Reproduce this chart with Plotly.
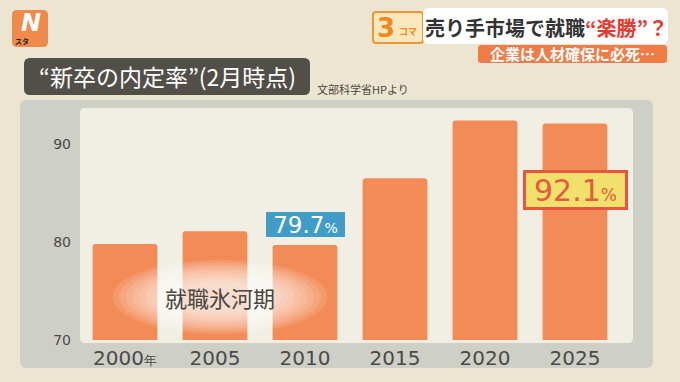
import plotly.graph_objects as go

# ---- data ----
years = ["2000", "2005", "2010", "2015", "2020", "2025"]
rates = [79.8, 81.1, 79.7, 86.5, 92.4, 92.1]
tick_labels = ["2000<span style='font-size:13px'>年</span>", "2005", "2010", "2015", "2020", "2025"]
y_ticks = [70, 80, 90]

W, H = 680, 382
ML, MR, MT, MB = 80, 60, 108, 42
PW, PH = W - ML - MR, H - MT - MB
JP = "Noto Sans CJK JP"


def px(x):
    return (x - ML) / PW


def py(y):
    return (H - MB - y) / PH


def rrect(x0, y0, x1, y1, r):
    X0, X1 = px(x0), px(x1)
    Y0, Y1 = py(y0), py(y1)
    rx, ry = r / PW, r / PH
    return (f"M{X0+rx},{Y0} L{X1-rx},{Y0} Q{X1},{Y0} {X1},{Y0-ry} "
            f"L{X1},{Y1+ry} Q{X1},{Y1} {X1-rx},{Y1} L{X0+rx},{Y1} "
            f"Q{X0},{Y1} {X0},{Y1+ry} L{X0},{Y0-ry} Q{X0},{Y0} {X0+rx},{Y0} Z")


fig = go.Figure()
fig.add_trace(go.Bar(
    x=years, y=rates, marker=dict(color="#f38b57", line=dict(width=0)),
    hoverinfo="skip",
))

shapes = []


def box(x0, y0, x1, y1, r, fill, layer="below", line_color=None, lw=0):
    shapes.append(dict(type="path", xref="paper", yref="paper",
                       path=rrect(x0, y0, x1, y1, r), fillcolor=fill,
                       line=dict(width=lw, color=line_color or fill), layer=layer))


# backgrounds
box(20, 100, 653, 368, 7, "#cecfc6")
box(80, 108, 633, 343, 5, "#f1efe4")
box(24, 58, 310, 95, 6, "#524f49")
box(12, 10, 48, 47, 5, "#f08a4b")
box(373, 12, 423, 43, 3, "#fbe7bd", line_color="#f0952f", lw=2)
box(423, 8, 668, 44, 6, "#ffffff")
box(478, 45, 667, 63, 3, "#ef7c47")

# soft glow behind 就職氷河期
cx, cy = 220, 297
for i in range(10):
    w = 215 - i * 13
    h = 74 - i * 5
    shapes.append(dict(type="circle", xref="paper", yref="paper",
                       x0=px(cx - w / 2), x1=px(cx + w / 2),
                       y0=py(cy + h / 2), y1=py(cy - h / 2),
                       fillcolor="white", opacity=0.12, line=dict(width=0), layer="above"))

annotations = []


def text(x, y, s, size, color, xanchor="center", family=JP, **kw):
    annotations.append(dict(xref="paper", yref="paper", x=px(x), y=py(y), text=s,
                            showarrow=False, xanchor=xanchor, yanchor="middle",
                            font=dict(size=size, color=color, family=family), **kw))


text(167, 76, "“新卒の内定率”(2月時点)", 23, "white")
text(315, 89, "文部科学省HPより", 11, "#4a4740", xanchor="left")
text(31, 23, "<b><i>N</i></b>", 24, "white", family="DejaVu Sans")
text(22, 41, "<b>スタ</b>", 7, "#222222")
text(386, 28, "<b>3</b>", 26, "#f0891c", family="DejaVu Sans")
text(408, 32, "<b>コマ</b>", 9, "#f0891c")
text(546, 27, "<b>売り手市場で就職<span style='color:#e8392f'>“楽勝”？</span></b>", 20, "#333333")
text(572, 54, "<b>企業は人材確保に必死…</b>", 15, "white")
text(220, 297, "就職氷河期", 22, "#4a4640")

# value labels anchored to bars (category index on the x axis)
annotations.append(dict(xref="x", yref="y", x=2, y=rates[2], yanchor="bottom", yshift=8,
                        xanchor="center",
                        text="79.7<span style='font-size:14px'>%</span>", showarrow=False,
                        font=dict(size=23, color="white", family="DejaVu Sans"),
                        bgcolor="#3f9dc8", width=79, height=25, borderpad=0, borderwidth=0))
annotations.append(dict(xref="x", yref="y", x=5, y=rates[5], yanchor="top", yshift=-47,
                        xanchor="center",
                        text="92.1<span style='font-size:17px'>%</span>", showarrow=False,
                        font=dict(size=30, color="#e85a3c", family="DejaVu Sans"),
                        bgcolor="#f1e06c", bordercolor="#e9553f", width=99, height=34,
                        borderpad=0, borderwidth=3))

fig.update_layout(
    width=W, height=H, margin=dict(l=ML, r=MR, t=MT, b=MB, autoexpand=False),
    paper_bgcolor="#ece5d2", plot_bgcolor="rgba(0,0,0,0)",
    showlegend=False, bargap=0.28, barcornerradius=3,
    shapes=shapes, annotations=annotations,
    xaxis=dict(type="category", tickvals=years, ticktext=tick_labels, showgrid=False,
               zeroline=False, showline=False, ticks="", ticklabelstandoff=4,
               tickfont=dict(size=20, color="#4a4a47", family="DejaVu Sans"),
               range=[-0.5, 5.5]),
    yaxis=dict(range=[70, 70 + PH / 9.8], tickvals=y_ticks, showgrid=False, zeroline=False,
               showline=False, ticks="", ticklabelstandoff=8,
               tickfont=dict(size=14, color="#4a4a47", family="DejaVu Sans")),
)

fig.write_html("out.html", config={"displayModeBar": False},
               post_script="document.body.style.margin='0';document.body.style.overflow='hidden';")
